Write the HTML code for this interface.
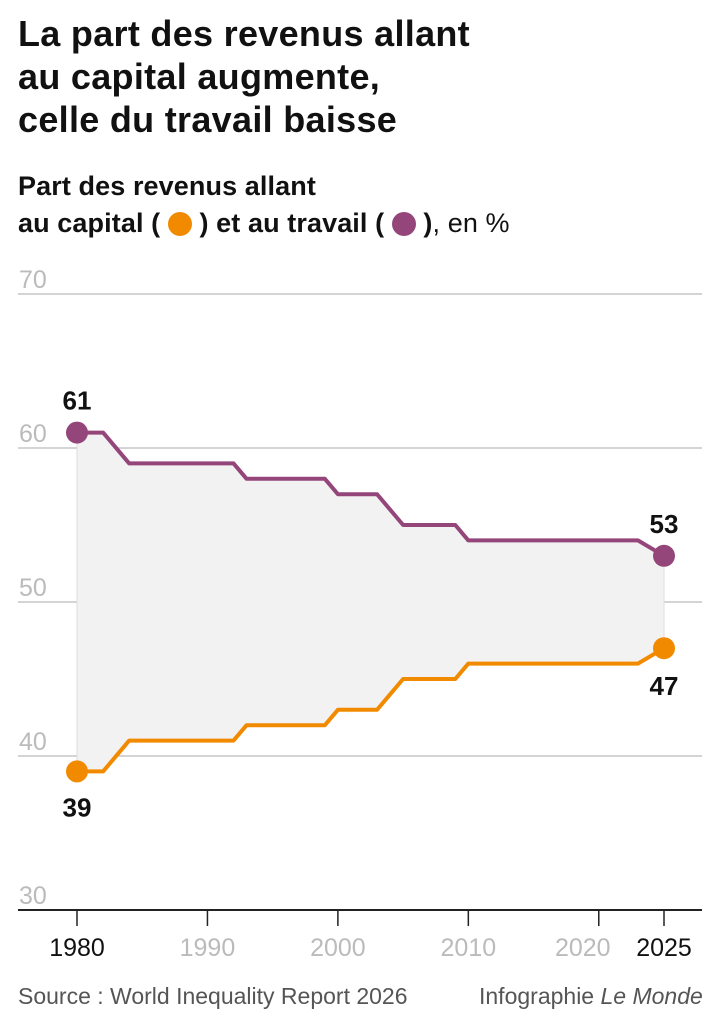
<!DOCTYPE html>
<html><head><meta charset="utf-8"><style>
body{margin:0;background:#fff;width:724px;height:1024px;overflow:hidden;font-family:"Liberation Sans",sans-serif;}
h1{position:absolute;left:18px;top:12px;margin:0;font-size:36px;line-height:43px;font-weight:bold;color:#111;letter-spacing:0.3px;white-space:nowrap}
.sub{position:absolute;left:18px;top:168px;font-size:27px;line-height:37px;font-weight:bold;color:#111;white-space:nowrap;letter-spacing:0.1px}
.dot{display:inline-block;width:24px;height:24px;border-radius:50%;vertical-align:-4px}
.src{position:absolute;top:983px;font-size:23px;color:#555;white-space:nowrap}
</style></head><body>
<h1>La part des revenus allant<br>au capital augmente,<br>celle du travail baisse</h1>
<div class="sub">Part des revenus allant<br>au capital ( <span class="dot" style="background:#f28a00"></span> ) et au travail ( <span class="dot" style="background:#94467a"></span> )<span style="font-weight:normal">, en %</span></div>
<svg id="chart" width="724" height="1024" style="position:absolute;left:0;top:0"></svg>
<div class="src" style="left:18px">Source : World Inequality Report 2026</div>
<div class="src" style="left:479px">Infographie <i>Le Monde</i></div>
<script>
const years=[1980,1982,1984,1992,1993,1999,2000,2003,2005,2009,2010,2023,2025];
const labor=[61,61,59,59,58,58,57,57,55,55,54,54,53];
const capital=[39,39,41,41,42,42,43,43,45,45,46,46,47];
const yTicks=[30,40,50,60,70];
const xTicks=[1980,1990,2000,2010,2020,2025];
const NS="http://www.w3.org/2000/svg";
const svg=document.getElementById('chart');
const x=v=>77+(v-1980)*(664-77)/45;
const y=v=>910-(v-30)*15.4;
function mk(t,a,p){const e=document.createElementNS(NS,t);for(const k in a)e.setAttribute(k,a[k]);(p||svg).appendChild(e);return e;}
yTicks.forEach(t=>{
 const l=mk('line',{x1:18,x2:702,y1:y(t),y2:y(t),stroke:t==30?'#222':'#bbb','stroke-width':t==30?2:1.2});
 
 
 const tx=mk('text',{x:19,y:y(t)-6,'font-size':25,fill:'#bbb','font-family':'Liberation Sans'});tx.textContent=t;
 
 
});
xTicks.forEach(t=>{
 const dark=(t==1980||t==2025);
 const tk=mk('line',{x1:x(t),x2:x(t),y1:910,y2:926,stroke:'#222','stroke-width':1.5});
 
 
 const tx=mk('text',{x:x(t)+(t==2020?-16:0),y:956,'font-size':25,fill:dark?'#111':'#bbb','text-anchor':'middle','font-family':'Liberation Sans'});tx.textContent=t;
 
 
});
let d='M'+years.map((yr,i)=>x(yr)+','+y(labor[i])).join('L');
for(let i=years.length-1;i>=0;i--)d+='L'+x(years[i])+','+y(capital[i]);
const area=mk('path',{d:d+'Z',fill:'#f2f2f2',stroke:'#ddd','stroke-width':1});


function series(vals,col,name){
 const p=mk('polyline',{points:years.map((yr,i)=>x(yr)+','+y(vals[i])).join(' '),fill:'none',stroke:col,'stroke-width':4,'stroke-linejoin':'round'});
 
 
 [0,years.length-1].forEach(i=>{
  const c=mk('circle',{cx:x(years[i]),cy:y(vals[i]),r:11,fill:col});
  
  
 });
}
series(labor,'#94467a','labor');
series(capital,'#f28a00','capital');
function lab(v,cx,cy,name){
 const t=mk('text',{x:cx,y:cy,'font-size':26,'font-weight':'bold','text-anchor':'middle',fill:'#111',stroke:'#fff','stroke-width':6,'paint-order':'stroke','font-family':'Liberation Sans'});t.textContent=v;
 
 
}
lab(labor[0],x(years[0]),y(labor[0])-23,'label-labor-start');
lab(labor[labor.length-1],x(2025),y(labor[labor.length-1])-23,'label-labor-end');
lab(capital[0],x(years[0]),y(capital[0])+45,'label-capital-start');
lab(capital[capital.length-1],x(2025),y(capital[capital.length-1])+47,'label-capital-end');
</script>
</body></html>
